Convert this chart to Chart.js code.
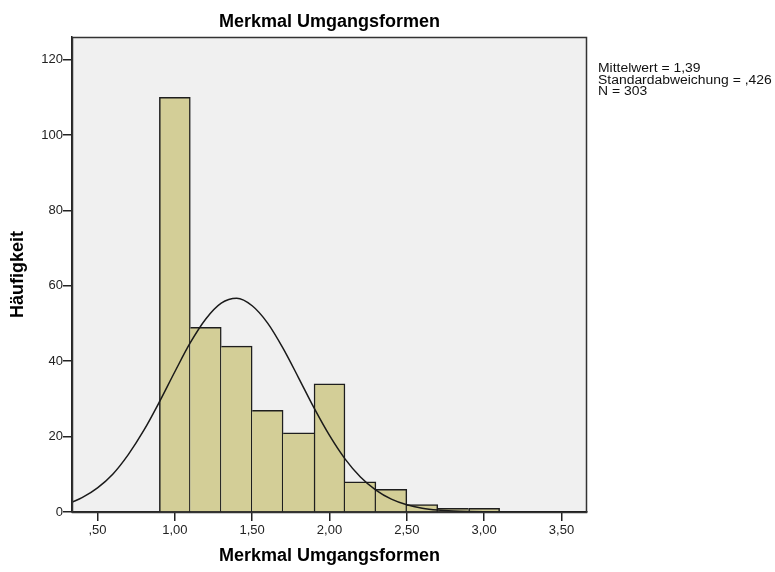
<!DOCTYPE html>
<html><head><meta charset="utf-8">
<script src="https://cdn.jsdelivr.net/npm/chart.js@4.4.1/dist/chart.umd.min.js"></script>
<style>html,body{margin:0;padding:0;background:#fff;} #wrap{position:relative;width:775px;height:572px;}</style>
</head><body><div id="wrap"><canvas id="c" width="775" height="572"></canvas></div>
<script>
const chartTitle = "Merkmal Umgangsformen";
const xAxisTitle = "Merkmal Umgangsformen";
const yAxisTitle = "Häufigkeit";
const statsLines = ["Mittelwert = 1,39", "Standardabweichung = ,426", "N = 303"];
const binCenters = [1.0, 1.2, 1.4, 1.6, 1.8, 2.0, 2.2, 2.4, 2.6, 2.8, 3.0];
const counts = [110, 49, 44, 27, 21, 34, 8, 6, 2, 1, 1];
const curveX = [0.335, 0.4, 0.5, 0.6, 0.7, 0.8, 0.9, 1.0, 1.1, 1.2, 1.3, 1.4, 1.5, 1.6, 1.7, 1.8, 1.9, 2.0, 2.1, 2.2, 2.3, 2.4, 2.5, 2.6, 2.7, 2.8, 2.9, 3.0, 3.1, 3.2, 3.3, 3.4, 3.5, 3.6, 3.665];
const curveY = [2.6, 3.8, 6.4, 10.1, 15.3, 21.7, 29.2, 37.2, 44.9, 51.2, 55.4, 56.7, 54.7, 50.1, 43.4, 35.6, 27.6, 20.3, 14.1, 9.3, 5.8, 3.4, 1.9, 1.0, 0.5, 0.24, 0.11, 0.04, 0.02, 0.01, 0, 0, 0, 0, 0];
const xTicks = [0.5, 1.0, 1.5, 2.0, 2.5, 3.0, 3.5];
const yTicks = [0, 20, 40, 60, 80, 100, 120];

const FONT = "'Liberation Sans', Arial, sans-serif";

const decor = {
  id: 'decor',
  beforeDraw(chart) {
    const {ctx, chartArea: a} = chart;
    ctx.save();
    ctx.fillStyle = '#ffffff';
    ctx.fillRect(0, 0, chart.width, chart.height);
    ctx.fillStyle = '#F0F0F0';
    ctx.fillRect(a.left, a.top, a.right - a.left, a.bottom - a.top);
    ctx.restore();
  },
  afterDraw(chart) {
    const {ctx, chartArea: a} = chart;
    ctx.save();
    ctx.strokeStyle = '#333333';
    ctx.lineWidth = 1.5;
    ctx.strokeRect(a.left + 0.5, a.top + 0.5, a.right - a.left - 1, a.bottom - a.top);
    ctx.fillStyle = '#000';
    ctx.font = 'bold 18px ' + FONT;
    ctx.textAlign = 'center';
    ctx.textBaseline = 'middle';
    ctx.fillText(chartTitle, (a.left + a.right) / 2, 22);
    ctx.textAlign = 'left';
    ctx.fillStyle = '#111';
    ctx.font = '12px ' + FONT;
    const x0 = a.right + 11;
    statsLines.forEach((t, i) => {
      ctx.save();
      ctx.translate(x0, 68.5 + i * 11.7);
      ctx.scale(1.16, 1);
      ctx.fillText(t, 0, 0);
      ctx.restore();
    });
    ctx.restore();
  }
};

const fmtX = v => {
  let s = Number(v).toFixed(2).replace('.', ',');
  if (s.startsWith('0')) s = s.slice(1);
  return s;
};

const BW = 1.5;
const barBorder = ctx => {
  const i = ctx.dataIndex;
  const n = counts.length;
  const left = (i === 0 || counts[i] >= counts[i - 1]) ? BW : 0;
  const right = (i === n - 1 || counts[i] > counts[i + 1]) ? BW : 0;
  return {top: BW, left: left, bottom: 0, right: right};
};

new Chart(document.getElementById('c'), {
  type: 'bar',
  data: {
    datasets: [
      {
        type: 'line',
        data: curveX.map((x, i) => ({x: x, y: curveY[i]})),
        borderColor: '#1a1a1a',
        borderWidth: 1.5,
        pointRadius: 0,
        fill: false,
        cubicInterpolationMode: 'monotone',
        order: 1
      },
      {
        type: 'bar',
        data: binCenters.map((x, i) => ({x: x, y: counts[i]})),
        backgroundColor: '#D3CE97',
        borderColor: '#1e1e1e',
        borderWidth: barBorder,
        borderSkipped: false,
        barPercentage: 1,
        categoryPercentage: 1,
        grouped: false,
        order: 2
      }
    ]
  },
  options: {
    responsive: false,
    animation: false,
    devicePixelRatio: 1,
    layout: {padding: {top: 37, right: 188, left: 0, bottom: 0}},
    plugins: {legend: {display: false}, tooltip: {enabled: false}, title: {display: false}},
    scales: {
      x: {
        type: 'linear',
        offset: false,
        min: 0.335,
        max: 3.665,
        afterBuildTicks: s => { s.ticks = xTicks.map(v => ({value: v})); },
        afterFit: s => { s.height = 60; },
        ticks: {callback: v => fmtX(v), font: {family: FONT, size: 13}, color: '#222', padding: 2, maxRotation: 0, autoSkip: false},
        grid: {display: true, offset: false, drawOnChartArea: false, drawTicks: true, tickLength: 9, color: '#222', lineWidth: 1.5},
        border: {display: true, color: '#222', width: 1.5},
        title: {display: true, text: xAxisTitle, font: {family: FONT, size: 18, weight: 'bold'}, color: '#000', padding: {top: 4, bottom: 5}}
      },
      y: {
        type: 'linear',
        min: 0,
        max: 126,
        afterBuildTicks: s => { s.ticks = yTicks.map(v => ({value: v})); },
        afterFit: s => { s.width = 72; },
        ticks: {callback: v => String(v), font: {family: FONT, size: 13}, color: '#222', padding: 0},
        grid: {display: true, drawOnChartArea: false, drawTicks: true, tickLength: 9, color: '#222', lineWidth: 1.5},
        border: {display: true, color: '#222', width: 1.5},
        title: {display: true, text: yAxisTitle, font: {family: FONT, size: 18, weight: 'bold'}, color: '#000', padding: {top: 7, bottom: 4}}
      }
    }
  },
  plugins: [decor]
});
</script>
</body></html>
